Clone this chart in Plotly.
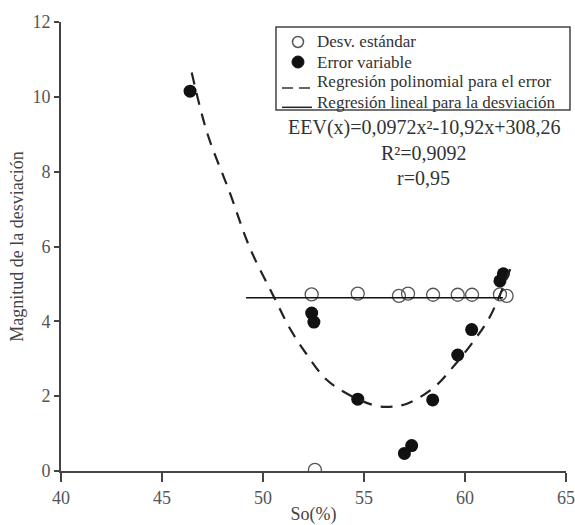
import plotly.graph_objects as go

# Desv. estándar (open circles)
sd_x = [52.41, 54.69, 56.73, 57.18, 58.42, 59.64, 60.35, 61.73, 62.06, 52.57]
sd_y = [4.72, 4.74, 4.68, 4.74, 4.71, 4.71, 4.71, 4.72, 4.68, 0.03]

# Error variable (filled circles)
ev_x = [46.39, 52.41, 52.52, 54.69, 57.0, 57.36, 58.4, 59.64, 60.33, 61.73, 61.9]
ev_y = [10.15, 4.22, 3.98, 1.92, 0.47, 0.68, 1.9, 3.1, 3.78, 5.08, 5.27]

# Dashed polynomial regression curve
poly_x = [46.47, 47.24, 48.37, 49.36, 50.59, 51.34, 52.16, 53.15, 54.39, 55.63, 56.4, 57.19, 58.5, 59.42, 60.41, 61.24, 62.35]
poly_y = [10.65, 9.03, 7.42, 5.95, 4.6, 3.8, 3.12, 2.44, 2.0, 1.74, 1.72, 1.81, 2.25, 2.79, 3.46, 4.13, 5.55]

# Linear regression (horizontal) for deviation
lin_x = [49.16, 61.88]
lin_y = [4.63, 4.63]

# Tick labels
x_ticks = [40, 45, 50, 55, 60, 65]
y_ticks = [0, 2, 4, 6, 8, 10, 12]

# Legend labels and equation texts
legend_labels = ["Desv. estándar", "Error variable",
                 "Regresión polinomial para el error",
                 "Regresión lineal para la desviación"]
eq_texts = ["EEV(x)=0,0972x²-10,92x+308,26", "R²=0,9092", "r=0,95"]

FONT = "Liberation Serif"
OPEN_C = "#555"
DARK = "#111"

fig = go.Figure()
fig.add_trace(go.Scatter(x=sd_x, y=sd_y, mode="markers", name=legend_labels[0],
                         marker=dict(symbol="circle-open", size=13, color=OPEN_C,
                                     line=dict(width=1.3, color=OPEN_C))))
fig.add_trace(go.Scatter(x=ev_x, y=ev_y, mode="markers", name=legend_labels[1],
                         marker=dict(symbol="circle", size=13, color=DARK)))
fig.add_trace(go.Scatter(x=poly_x, y=poly_y, mode="lines", line_shape="spline",
                         name=legend_labels[2],
                         line=dict(color="#222", width=2.2, dash="12px,9px")))
fig.add_trace(go.Scatter(x=lin_x, y=lin_y, mode="lines", name=legend_labels[3],
                         line=dict(color=DARK, width=1.6)))

# ---- legend box drawn in the figure (compact, like the reference) ----
# plot area spans 505 x 449 px; positions below are paper fractions
box_x0, box_x1, box_y0, box_y1 = 0.4257, 1.0079, 0.8040, 0.9889
fig.add_shape(type="rect", xref="paper", yref="paper",
              x0=box_x0, x1=box_x1, y0=box_y0, y1=box_y1,
              line=dict(color="#444", width=1.5), fillcolor="white", layer="above")
row_y = [0.9555, 0.9109, 0.8664, 0.8218]
sym_x = 0.4693
for lbl, yy in zip(legend_labels, row_y):
    fig.add_annotation(x=0.503, y=yy, xref="paper", yref="paper", showarrow=False,
                       xanchor="left", yanchor="middle", text=lbl,
                       font=dict(family=FONT, size=17, color="#333"))
fig.add_shape(type="circle", xref="paper", yref="paper", xsizemode="pixel", ysizemode="pixel",
              xanchor=sym_x, yanchor=row_y[0], x0=-5.5, x1=5.5, y0=-5.5, y1=5.5,
              line=dict(color=OPEN_C, width=1.5), fillcolor="white", layer="above")
fig.add_shape(type="circle", xref="paper", yref="paper", xsizemode="pixel", ysizemode="pixel",
              xanchor=sym_x, yanchor=row_y[1], x0=-6, x1=6, y0=-6, y1=6,
              line=dict(color=DARK, width=1), fillcolor=DARK, layer="above")
fig.add_shape(type="line", xref="paper", yref="paper",
              x0=0.4376, x1=0.4931, y0=0.8530, y1=0.8530,
              line=dict(color="#333", width=1.5, dash="11px,6px"), layer="above")
fig.add_shape(type="line", xref="paper", yref="paper",
              x0=0.4376, x1=0.4970, y0=0.8100, y1=0.8100,
              line=dict(color="#222", width=1.5), layer="above")

# ---- equation texts ----
for txt, yy in zip(eq_texts, [0.7661, 0.7082, 0.6526]):
    fig.add_annotation(x=0.7188, y=yy, xref="paper", yref="paper", showarrow=False,
                       xanchor="center", yanchor="middle", text=txt,
                       font=dict(family=FONT, size=20, color="#333"))

fig.update_layout(
    width=575, height=525,
    margin=dict(l=61, r=9, t=22, b=54),
    paper_bgcolor="white", plot_bgcolor="white",
    font=dict(family=FONT, size=18, color="#444"),
    showlegend=False,
    xaxis=dict(range=[40, 65], tickvals=x_ticks, automargin=False,
               showgrid=False, zeroline=False, showline=True,
               linecolor="#444", linewidth=2, ticks="outside", ticklen=9,
               tickwidth=2, tickcolor="#444",
               tickfont=dict(family=FONT, size=18, color="#555"),
               title=dict(text="So(%)", font=dict(family=FONT, size=18, color="#444"), standoff=1)),
    yaxis=dict(range=[0, 12], tickvals=y_ticks, automargin=False,
               showgrid=False, zeroline=False, showline=True,
               linecolor="#444", linewidth=2, ticks="outside", ticklen=5,
               tickwidth=2, tickcolor="#444",
               tickfont=dict(family=FONT, size=18, color="#555"),
               title=dict(text="Magnitud de la desviación", font=dict(family=FONT, size=18, color="#444"), standoff=4)),
)

fig.write_html("out.html", config={"displayModeBar": False},
               post_script="document.body.style.margin='0';document.body.style.overflow='hidden';")
